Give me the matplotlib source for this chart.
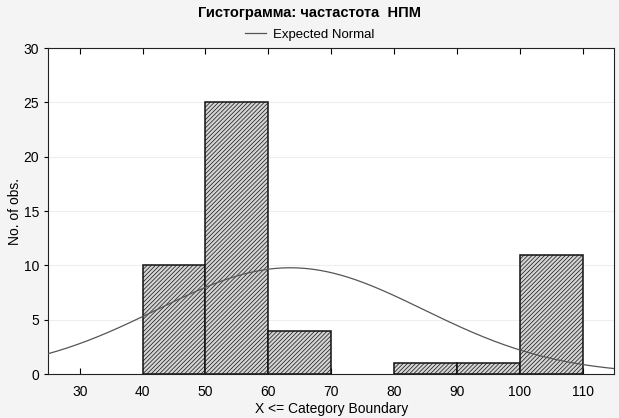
import numpy as np
import matplotlib.pyplot as plt

plt.rcParams['font.family'] = ['Liberation Sans', 'DejaVu Sans']
plt.rcParams['hatch.linewidth'] = 0.5
plt.rcParams['hatch.color'] = '#555555'

# границы интервалов и частоты
bin_left = [40, 50, 60, 80, 90, 100]
counts = [10, 25, 4, 1, 1, 11]
bin_width = 10

# параметры ожидаемого нормального распределения
n_obs = 52
mean_npm = 63.5
sd_npm = 21.2

fig = plt.figure(figsize=(6.19, 4.18), dpi=100, facecolor='#f4f4f4')
ax = fig.add_axes([0.078, 0.105, 0.914, 0.78])

ax.bar(bin_left, counts, width=bin_width, align='edge', color='#d4d4d4',
       edgecolor='#111111', linewidth=1.1, hatch='////////', zorder=2)

x = np.linspace(25, 115, 400)
y = n_obs * bin_width / (sd_npm * np.sqrt(2 * np.pi)) * np.exp(-0.5 * ((x - mean_npm) / sd_npm) ** 2)
ax.plot(x, y, color='#555555', linewidth=0.9, zorder=3, label='Expected Normal')

ax.set_xlim(25, 115)
ax.set_ylim(0, 30)
ax.set_xticks(range(30, 111, 10))
ax.set_yticks(range(0, 31, 5))
ax.tick_params(axis='x', direction='in', top=True, length=4, labelsize=10, pad=8)
ax.tick_params(axis='y', direction='out', length=3, labelsize=10)
ax.yaxis.grid(True, color='#eeeeee', linewidth=0.8, zorder=0)
ax.set_axisbelow(True)
for s in ax.spines.values():
    s.set_color('#222222')

ax.set_xlabel('X <= Category Boundary', fontsize=10, labelpad=2)
ax.set_ylabel('No. of obs.', fontsize=10, labelpad=1)

fig.text(0.5, 0.97, 'Гистограмма: частастота  НПМ', ha='center', va='center',
         fontsize=10.5, fontweight='bold')
fig.legend(loc='center', bbox_to_anchor=(0.5, 0.917), frameon=False, fontsize=9.5,
           handlelength=1.6, handletextpad=0.5)

plt.savefig('out.png', dpi=100, facecolor=fig.get_facecolor())
